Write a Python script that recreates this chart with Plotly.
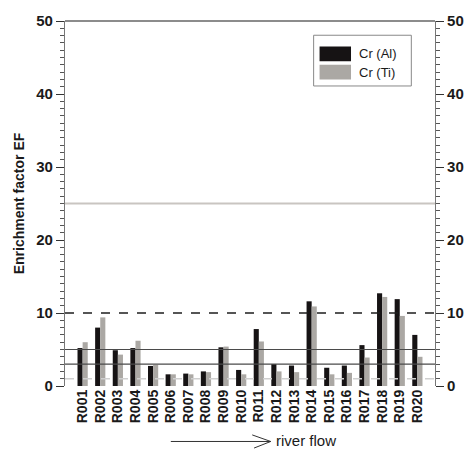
import plotly.graph_objects as go

# Sampling sites along the river and chromium enrichment factors
sites = ["R001", "R002", "R003", "R004", "R005", "R006", "R007", "R008", "R009", "R010",
         "R011", "R012", "R013", "R014", "R015", "R016", "R017", "R018", "R019", "R020"]
cr_al = [5.2, 8.0, 4.9, 5.2, 2.75, 1.6, 1.7, 2.0, 5.3, 2.2,
         7.8, 3.0, 2.8, 11.6, 2.5, 2.8, 5.6, 12.7, 11.9, 7.0]
cr_ti = [6.0, 9.4, 4.3, 6.2, 2.9, 1.6, 1.6, 1.9, 5.4, 1.6,
         6.1, 2.0, 1.9, 10.9, 1.6, 1.8, 3.9, 12.2, 9.6, 4.0]

# Reference levels of the enrichment classes
levels_solid = [3, 5]
level_dashed = 10
level_minor = 1
level_high = 25

y_ticks = [0, 10, 20, 30, 40, 50]

FONT = "Arial, Liberation Sans, sans-serif"
BLACK = "#161314"
GREY = "#aba8a4"

xs = list(range(1, len(sites) + 1))

fig = go.Figure()
fig.add_trace(go.Bar(x=xs, y=cr_al, name="Cr (Al)", marker=dict(color=BLACK, line_width=0),
                     showlegend=False))
fig.add_trace(go.Bar(x=xs, y=cr_ti, name="Cr (Ti)", marker=dict(color=GREY, line_width=0),
                     showlegend=False))
# invisible trace so the right-hand axis is drawn
fig.add_trace(go.Scatter(x=[1], y=[0], yaxis="y2", mode="markers",
                         marker=dict(opacity=0), showlegend=False, hoverinfo="skip"))

axis_common = dict(
    range=[0, 50], tickvals=y_ticks, ticks="outside", ticklen=8, tickwidth=1.2,
    tickcolor="#333", showgrid=False, zeroline=False, showline=True,
    linecolor="#777", linewidth=1.2,
    tickfont=dict(family=FONT, size=15, color="#1a1a1a", weight="bold"),
    minor=dict(dtick=1, ticks="outside", ticklen=4, tickcolor="#555", tickwidth=1),
)

fig.update_layout(
    width=476, height=461,
    margin=dict(l=65, r=36, t=12, b=75),
    paper_bgcolor="white", plot_bgcolor="white",
    barmode="group", bargap=0.42, bargroupgap=0,
    xaxis=dict(range=[0, 21], tickvals=xs, ticktext=sites, tickangle=-90,
               showgrid=False, zeroline=False, showline=False, ticks="",
               tickfont=dict(family=FONT, size=14, color="#1a1a1a", weight="bold")),
    yaxis=dict(**axis_common, side="left",
               title=dict(text="Enrichment factor EF", standoff=8,
                          font=dict(family=FONT, size=14, color="#1a1a1a", weight="bold"))),
    yaxis2=dict(**axis_common, side="right", overlaying="y", anchor="x"),
)

def hline(y, color, width, dash="solid"):
    fig.add_shape(type="line", xref="paper", yref="y", x0=0, x1=1, y0=y, y1=y,
                  line=dict(color=color, width=width, dash=dash), layer="above")

hline(level_minor, "#cfcfcf", 1.5, "dash")
for lv in levels_solid:
    hline(lv, "#4a4a4a", 1.2)
hline(level_dashed, "#1e1e1e", 1.5, "dash")
hline(level_high, "#c9c5c1", 2)

# top frame line
fig.add_shape(type="line", xref="paper", yref="paper", x0=0, x1=1, y0=1, y1=1,
              line=dict(color="#666", width=1.5))

# legend box
fig.add_shape(type="rect", xref="paper", yref="paper", x0=0.672, x1=0.936, y0=0.822, y1=0.961,
              line=dict(color="#888", width=1), fillcolor="white")
fig.add_shape(type="rect", xref="paper", yref="paper", x0=0.688, x1=0.773, y0=0.890, y1=0.930,
              line_width=0, fillcolor=BLACK)
fig.add_shape(type="rect", xref="paper", yref="paper", x0=0.688, x1=0.773, y0=0.840, y1=0.880,
              line_width=0, fillcolor=GREY)
for name, yc in [("Cr (Al)", 0.910), ("Cr (Ti)", 0.860)]:
    fig.add_annotation(xref="paper", yref="paper", x=0.790, y=yc, text=name, showarrow=False,
                       xanchor="left", yanchor="middle",
                       font=dict(family=FONT, size=13, color="#1a1a1a"))

# river flow arrow below the axis
fig.add_shape(type="path", xref="paper", yref="paper",
              path="M 0.286,-0.152 L 0.556,-0.152 M 0.506,-0.134 L 0.556,-0.152 L 0.511,-0.170",
              line=dict(color="#333", width=1))
fig.add_annotation(xref="paper", yref="paper", x=0.565, y=-0.150, text="river flow",
                   showarrow=False, xanchor="left", yanchor="middle",
                   font=dict(family=FONT, size=15, color="#1a1a1a"))

fig.write_html("out.html")
